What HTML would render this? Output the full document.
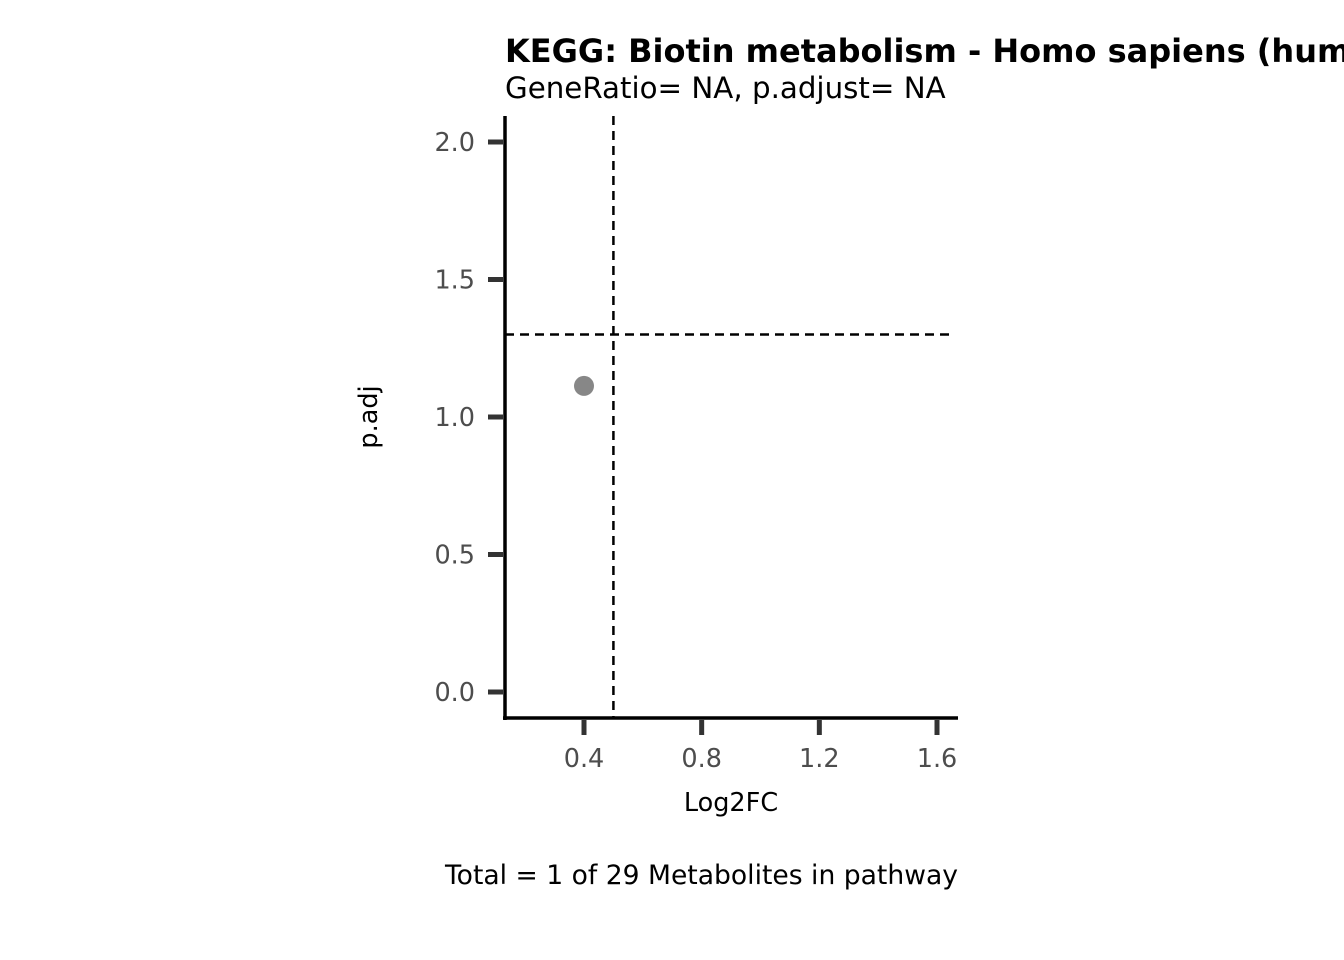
<!DOCTYPE html>
<html><head><meta charset="utf-8"><style>
html,body{margin:0;padding:0;background:#fff;}
svg{display:block;font-family:"DejaVu Sans","Liberation Sans",sans-serif;}
</style></head><body>
<svg id="chart" width="1344" height="960">
<text x="505" y="62" font-size="32" font-weight="bold" fill="#000">KEGG: Biotin metabolism - Homo sapiens (human)</text>
<text x="505" y="98" font-size="29.3" fill="#000">GeneRatio= NA, p.adjust= NA</text>
<g id="plot"></g>
<text x="731" y="811" font-size="25.5" text-anchor="middle" fill="#000">Log2FC</text>
<text transform="translate(377,417) rotate(-90)" font-size="25.5" text-anchor="middle" fill="#000">p.adj</text>
<text x="958" y="884" font-size="26.6" text-anchor="end" fill="#000">Total = 1 of 29 Metabolites in pathway</text>
</svg>
<script>
const xTicks=[0.4,0.8,1.2,1.6];
const yTicks=[0.0,0.5,1.0,1.5,2.0];
const pointsX=[0.4];
const pointsY=[1.113];
const vLine=[0.5];
const hLine=[1.3];
const NS='http://www.w3.org/2000/svg';
const g=document.getElementById('plot');
const sx=v=>584+(v-0.4)*(937-584)/1.2;
const sy=v=>692-v*275;
function el(t,a){const e=document.createElementNS(NS,t);for(const k in a)e.setAttribute(k,a[k]);g.appendChild(e);return e;}
vLine.forEach(v=>{const e=el('line',{x1:sx(v),x2:sx(v),y1:116,y2:718,stroke:'#000','stroke-width':2.5,'stroke-dasharray':'9,6'});

});
hLine.forEach(v=>{const e=el('line',{x1:505,x2:950,y1:sy(v),y2:sy(v),stroke:'#000','stroke-width':2.5,'stroke-dasharray':'9,6'});

});
let a=el('line',{x1:505,x2:505,y1:116,y2:720,stroke:'#000','stroke-width':3.5});


a=el('line',{x1:503,x2:958,y1:718,y2:718,stroke:'#000','stroke-width':3.5});


yTicks.forEach(v=>{const y=sy(v);
const t=el('line',{x1:488,x2:503,y1:y,y2:y,stroke:'#333','stroke-width':5});


const l=el('text',{x:475,y:y+9,'font-size':25.5,'text-anchor':'end',fill:'#4d4d4d'});l.textContent=v.toFixed(1);

});
xTicks.forEach(v=>{const x=sx(v);
const t=el('line',{x1:x,x2:x,y1:720,y2:735,stroke:'#333','stroke-width':5});


const l=el('text',{x:x,y:767,'font-size':25.5,'text-anchor':'middle',fill:'#4d4d4d'});l.textContent=v.toFixed(1);

});
pointsX.forEach((v,i)=>{const c=el('circle',{cx:sx(v),cy:sy(pointsY[i]),r:10,fill:'#878787'});

});
</script>
</body></html>
